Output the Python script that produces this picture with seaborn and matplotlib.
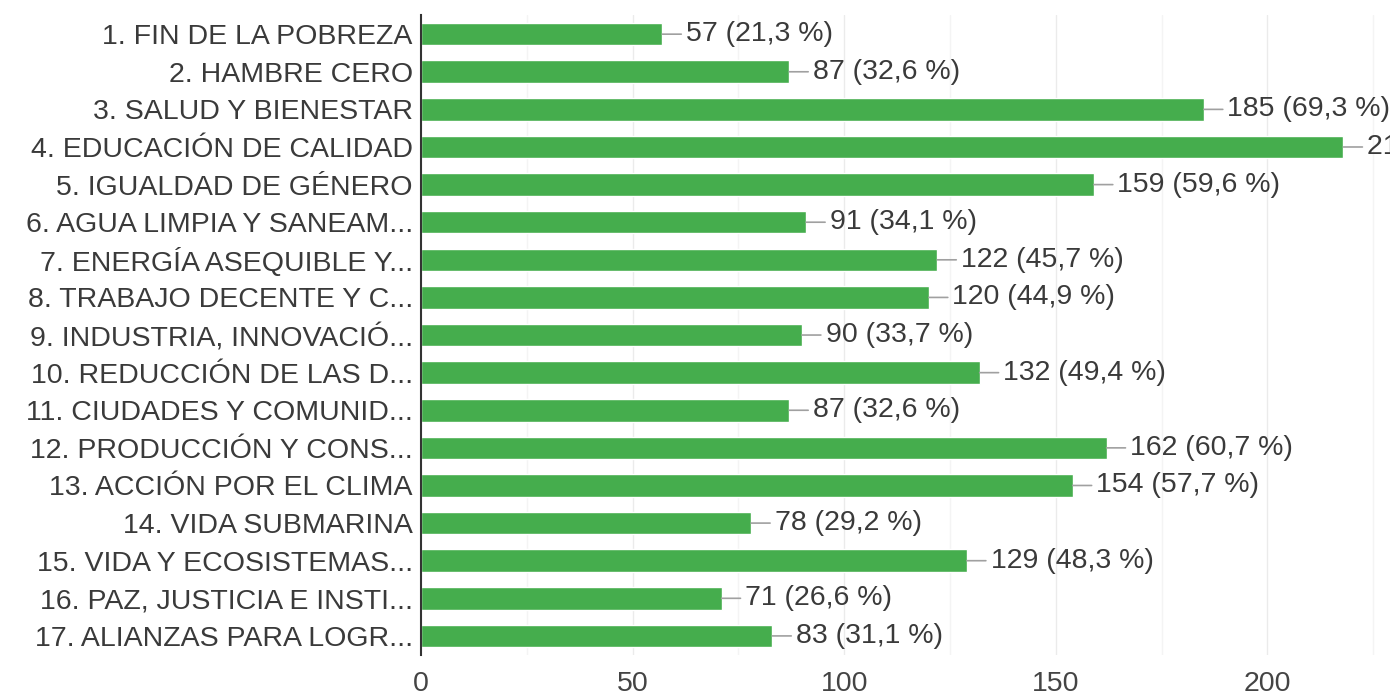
import matplotlib
matplotlib.use("Agg")
import matplotlib.pyplot as plt
import seaborn as sns
import pandas as pd

# Data
objetivos = [
    "1. FIN DE LA POBREZA",
    "2. HAMBRE CERO",
    "3. SALUD Y BIENESTAR",
    "4. EDUCACIÓN DE CALIDAD",
    "5. IGUALDAD DE GÉNERO",
    "6. AGUA LIMPIA Y SANEAM...",
    "7. ENERGÍA ASEQUIBLE Y...",
    "8. TRABAJO DECENTE Y C...",
    "9. INDUSTRIA, INNOVACIÓ...",
    "10. REDUCCIÓN DE LAS D...",
    "11. CIUDADES Y COMUNID...",
    "12. PRODUCCIÓN Y CONS...",
    "13. ACCIÓN POR EL CLIMA",
    "14. VIDA SUBMARINA",
    "15. VIDA Y ECOSISTEMAS...",
    "16. PAZ, JUSTICIA E INSTI...",
    "17. ALIANZAS PARA LOGR...",
]
respuestas = [57, 87, 185, 218, 159, 91, 122, 120, 90, 132, 87, 162, 154, 78, 129, 71, 83]
porcentajes = ["21,3", "32,6", "69,3", "81,6", "59,6", "34,1", "45,7", "44,9", "33,7",
               "49,4", "32,6", "60,7", "57,7", "29,2", "48,3", "26,6", "31,1"]
x_ticks = [0, 50, 100, 150, 200]

df = pd.DataFrame({"objetivo": objetivos, "respuestas": respuestas})

sns.set_style("white")
plt.rcParams["font.family"] = ["Liberation Sans", "DejaVu Sans"]
fs = 20.5

fig = plt.figure(figsize=(13.9, 6.98), dpi=100)
ax = fig.add_axes([0.303, 0.062, 0.697, 0.916])

# light grid every 25, drawn below the bars
for g in range(25, 250, 25):
    ax.axvline(g, color="#ebebeb" if g % 50 == 0 else "#f4f4f4", lw=1, zorder=0)

sns.barplot(data=df, x="respuestas", y="objetivo", orient="h", color="#45ad4d",
            saturation=1, width=0.6, ax=ax, zorder=2)

# value labels with a short connector line
for i, (v, p) in enumerate(zip(respuestas, porcentajes)):
    ax.annotate(f"{v} ({p} %)", xy=(v, i), xytext=(17, 0), textcoords="offset points",
                ha="left", va="center", fontsize=fs, color="#3a3a3a",
                arrowprops=dict(arrowstyle="-", color="#a0a0a0", lw=1.2,
                                shrinkA=1, shrinkB=0),
                annotation_clip=False)

ax.set_xlim(0, 229)
ax.set_ylim(16.5, -0.5)
ax.set_xticks(x_ticks)
ax.set_xticklabels([str(t) for t in x_ticks], fontsize=fs, color="#444444")
ax.tick_params(axis="x", length=0, pad=12)
ax.tick_params(axis="y", length=0, pad=6, labelsize=fs, labelcolor="#3a3a3a")
ax.set_xlabel("")
ax.set_ylabel("")

for s in ["top", "right", "bottom"]:
    ax.spines[s].set_visible(False)
ax.spines["left"].set_color("#333333")
ax.spines["left"].set_linewidth(1.5)
ax.spines["left"].set_zorder(3)

fig.savefig("out.png", dpi=100)
